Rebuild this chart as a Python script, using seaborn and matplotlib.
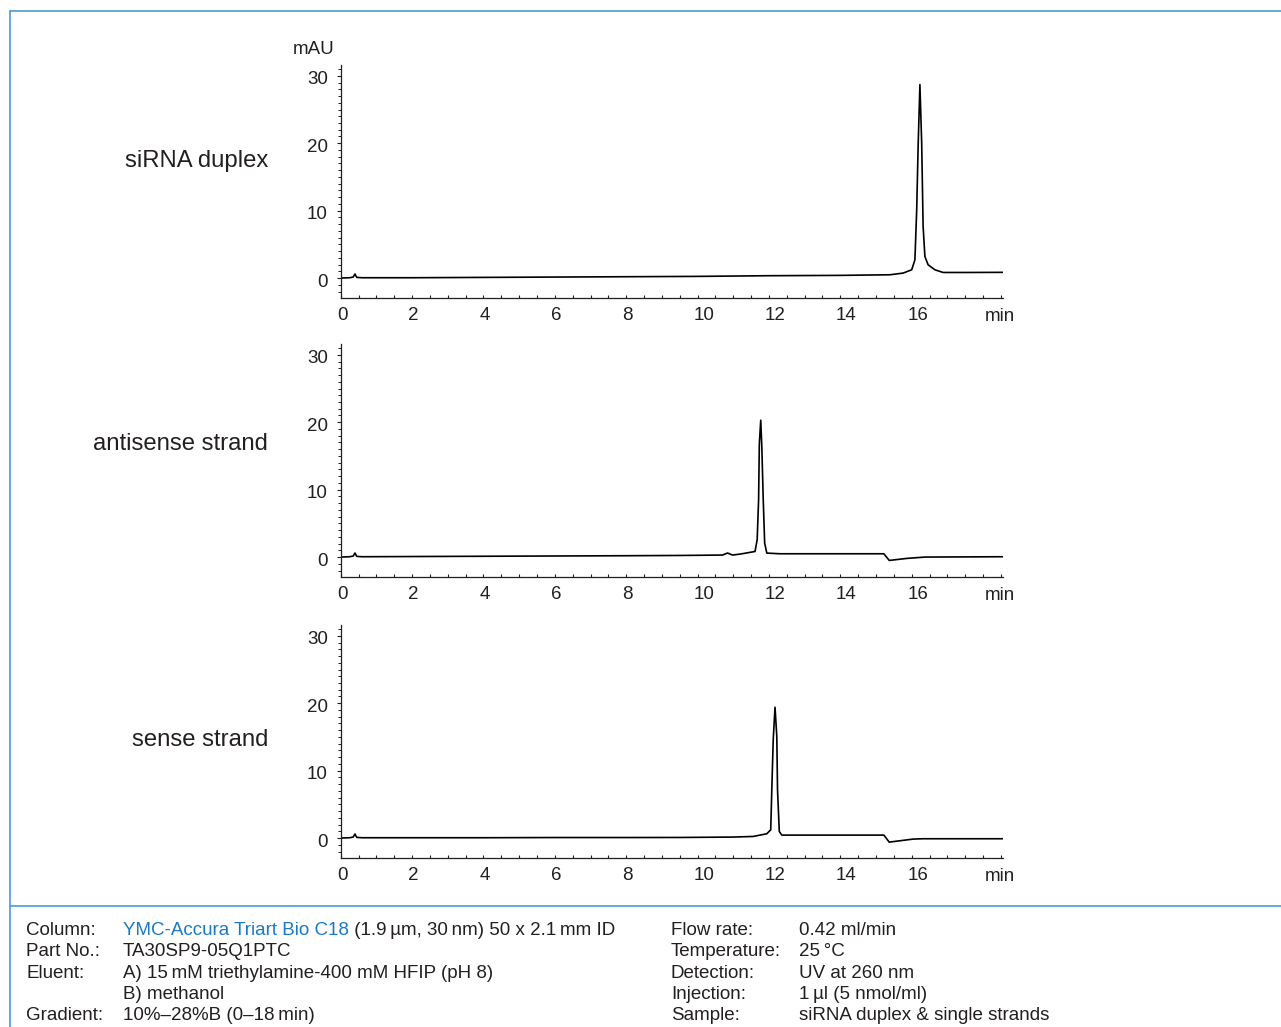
import numpy as np
import pandas as pd
import matplotlib
matplotlib.use("Agg")
import matplotlib.pyplot as plt
from matplotlib.lines import Line2D
from matplotlib.ticker import MultipleLocator, FixedLocator
from matplotlib.transforms import ScaledTranslation
import seaborn as sns

# chromatogram traces (time in min, signal in mAU)
duplex_t = [0, 0.25, 0.35, 0.40, 0.45, 0.6, 2, 4, 6, 8, 10, 12, 14, 15.39, 15.76,
            16.0, 16.09, 16.14, 16.18, 16.23, 16.28, 16.32, 16.37, 16.46, 16.65,
            16.88, 17.54, 18.55]
duplex_v = [0.0, 0.05, 0.15, 0.6, 0.1, 0.05, 0.05, 0.1, 0.15, 0.2, 0.25, 0.35, 0.4,
            0.49, 0.74, 1.23, 2.7, 10.1, 19.5, 28.7, 20.0, 7.66, 3.2, 1.97, 1.23,
            0.83, 0.83, 0.85]

antisense_t = [0, 0.25, 0.35, 0.40, 0.45, 0.6, 2, 4, 6, 8, 9.51, 10.7, 10.84, 10.98,
               11.2, 11.61, 11.67, 11.71, 11.73, 11.77, 11.80, 11.84, 11.88, 11.94,
               12.31, 15.22, 15.37, 15.86, 16.37, 18.55]
antisense_v = [0.0, 0.05, 0.15, 0.6, 0.1, 0.05, 0.08, 0.12, 0.16, 0.2, 0.24, 0.3, 0.6,
               0.3, 0.45, 0.83, 2.57, 8.5, 16.7, 20.3, 16.4, 8.5, 2.07, 0.59, 0.49,
               0.49, -0.5, -0.2, 0.0, 0.05]

sense_t = [0, 0.25, 0.35, 0.40, 0.45, 0.6, 2, 4, 6, 8, 9.51, 11.0, 11.56, 11.94,
           12.05, 12.08, 12.12, 12.17, 12.22, 12.24, 12.29, 12.36, 15.22, 15.37,
           16.04, 16.32, 18.55]
sense_v = [0.0, 0.05, 0.15, 0.6, 0.1, 0.05, 0.05, 0.05, 0.08, 0.08, 0.09, 0.15, 0.24,
           0.64, 1.23, 7.2, 14.6, 19.4, 15.1, 7.2, 0.98, 0.44, 0.44, -0.6, -0.15,
           -0.1, -0.1]

panel_names = ["siRNA duplex", "antisense strand", "sense strand"]
x_ticks = [0, 2, 4, 6, 8, 10, 12, 14, 16]
y_ticks = [0, 10, 20, 30]

left_info = [("Column:", None), ("Part No.:", "TA30SP9-05Q1PTC"),
             ("Eluent:", "A) 15\u2009mM triethylamine-400 mM HFIP (pH 8)"),
             ("", "B) methanol"), ("Gradient:", "10%\u201328%B (0\u201318\u2009min)")]
right_info = [("Flow rate:", "0.42 ml/min"), ("Temperature:", "25\u2009\u00b0C"),
              ("Detection:", "UV at 260 nm"), ("Injection:", "1\u2009\u00b5l (5 nmol/ml)"),
              ("Sample:", "siRNA duplex & single strands")]

sns.set_theme(style="ticks")
plt.rcParams['font.family'] = ['Liberation Sans', 'DejaVu Sans']
ink = '#231f20'
blue = '#4a9bd3'

W, H = 1281, 1027
fig = plt.figure(figsize=(W / 100, H / 100), dpi=100)


def fx(px):
    return px / W


def fy(py):
    return 1 - py / H


def shift(dx_px, dy_px):
    return ScaledTranslation(dx_px / 100, dy_px / 100, fig.dpi_scale_trans)


traces = [(duplex_t, duplex_v), (antisense_t, antisense_v), (sense_t, sense_v)]
offsets = [0, 279, 560]
for i, ((t, v), name, off) in enumerate(zip(traces, panel_names, offsets)):
    ax = fig.add_axes([fx(340.7), fy(298.3 + off), 662 / W, 233.3 / H])
    df = pd.DataFrame({'t': t, 'v': v})
    sns.lineplot(data=df, x='t', y='v', ax=ax, color='black', linewidth=1.2,
                 estimator=None, sort=False)
    ax.set_xlim(0, 18.55)
    ax.set_ylim(-3, 31.6)
    ax.set_xlabel('')
    ax.set_ylabel('')
    for s in ['top', 'right']:
        ax.spines[s].set_visible(False)
    for s in ['left', 'bottom']:
        ax.spines[s].set_linewidth(0.9)
        ax.spines[s].set_color(ink)
    ax.xaxis.set_major_locator(FixedLocator(x_ticks))
    ax.xaxis.set_minor_locator(MultipleLocator(0.5))
    ax.yaxis.set_major_locator(FixedLocator(y_ticks))
    ax.yaxis.set_minor_locator(FixedLocator(list(range(-2, 32))))
    ax.tick_params(axis='x', which='both', direction='in', length=2, width=0.8,
                   color=ink, labelsize=13.5, labelcolor=ink, pad=6.2)
    ax.tick_params(axis='y', which='major', direction='out', length=3.2, width=0.8,
                   color=ink, labelsize=13.5, labelcolor=ink, pad=6)
    ax.tick_params(axis='y', which='minor', direction='out', length=2, width=0.7,
                   color=ink)
    fig.canvas.draw()
    for val, lab in zip(x_ticks, ax.get_xticklabels()):
        dx = 6 if val >= 10 else 1.5
        lab.set_transform(lab.get_transform() + shift(dx, 0))
    for lab in ax.get_yticklabels():
        lab.set_transform(lab.get_transform() + shift(0, -2))
    ax.set_facecolor('none')
    fig.text(fx(1000), fy(321 + off), 'min', ha='center', va='baseline',
             fontsize=13.5, color=ink)
    label_y = [167, 450, 746][i]
    fig.text(fx(268), fy(label_y), name, ha='right', va='baseline',
             fontsize=17.2, color=ink)

fig.text(fx(314), fy(54), 'mAU', ha='center', va='baseline', fontsize=13.5, color=ink)

# frame lines
fig.add_artist(Line2D([fx(10), 1], [fy(10.5), fy(10.5)], color=blue, lw=1.2))
fig.add_artist(Line2D([fx(10), fx(10)], [fy(10.5), 0], color=blue, lw=1.2))
fig.add_artist(Line2D([fx(10), 1], [fy(905.7), fy(905.7)], color=blue, lw=1.2))

# method details
line_y = [935, 956, 978, 999, 1020]
for (k, val), y in zip(left_info, line_y):
    fig.text(fx(26), fy(y), k, ha='left', va='baseline', fontsize=13.5, color=ink)
    if val is not None:
        fig.text(fx(123), fy(y), val, ha='left', va='baseline', fontsize=13.5, color=ink)
col_txt = fig.text(fx(123), fy(line_y[0]), 'YMC-Accura Triart Bio C18', ha='left',
                   va='baseline', fontsize=13.5, color='#1b7ac2')
fig.canvas.draw()
bb = col_txt.get_window_extent()
fig.text(bb.x1 / W, fy(line_y[0]), ' (1.9\u2009\u00b5m, 30\u2009nm) 50 x 2.1\u2009mm ID',
         ha='left', va='baseline', fontsize=13.5, color=ink)
for (k, val), y in zip(right_info, line_y):
    fig.text(fx(671), fy(y), k, ha='left', va='baseline', fontsize=13.5, color=ink)
    fig.text(fx(799), fy(y), val, ha='left', va='baseline', fontsize=13.5, color=ink)

fig.savefig('out.png', dpi=100, facecolor='white')
